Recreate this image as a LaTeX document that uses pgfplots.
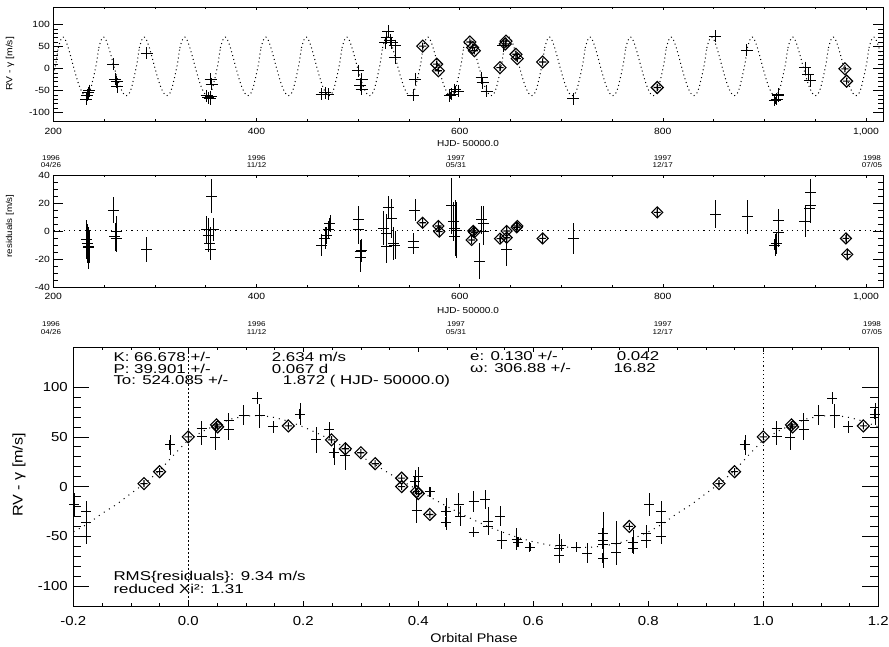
\documentclass[border=0pt]{standalone}
\usepackage{fontspec}
\setmainfont{Liberation Sans}[FakeStretch=1.15]
\newfontfamily\idlwide{Liberation Sans}[FakeStretch=1.32]
\usepackage{pgfplots}
\usepackage{pgfplotstable}
\pgfplotsset{compat=1.18}

% diamond with a plus inside
\pgfdeclareplotmark{dplus}{%
  \pgfpathmoveto{\pgfqpoint{0pt}{\pgfplotmarksize}}%
  \pgfpathlineto{\pgfqpoint{\pgfplotmarksize}{0pt}}%
  \pgfpathlineto{\pgfqpoint{0pt}{-\pgfplotmarksize}}%
  \pgfpathlineto{\pgfqpoint{-\pgfplotmarksize}{0pt}}%
  \pgfpathclose
  \pgfpathmoveto{\pgfqpoint{0pt}{0.6\pgfplotmarksize}}%
  \pgfpathlineto{\pgfqpoint{0pt}{-0.6\pgfplotmarksize}}%
  \pgfpathmoveto{\pgfqpoint{0.6\pgfplotmarksize}{0pt}}%
  \pgfpathlineto{\pgfqpoint{-0.6\pgfplotmarksize}{0pt}}%
  \pgfusepathqstroke}

% orbit model, one period (phase, RV)
\pgfplotstableread{
ph rv
0.000 47
0.025 55.5
0.050 62.5
0.075 68
0.100 71
0.125 71.5
0.150 69.5
0.175 65.5
0.200 60
0.225 53.5
0.250 46.5
0.275 38.5
0.300 30.5
0.325 22
0.350 13
0.375 4.5
0.400 -3.5
0.425 -12
0.450 -20
0.475 -27.5
0.500 -34.5
0.525 -41
0.550 -46.5
0.575 -51.5
0.600 -55.5
0.625 -58.5
0.650 -60.5
0.675 -61.5
0.700 -61
0.725 -59.5
0.750 -56.5
0.775 -52
0.800 -45.5
0.825 -37.5
0.850 -27
0.875 -18
0.900 -7
0.925 3.5
0.950 16
0.975 32
1.000 47
}\model

% phased RV, crosses
\pgfplotstableread{
ph rv err
0.023 58 8
0.023 50 8
0.047 49 12
0.070 57 10
0.070 66 8
0.096 72 10
0.120 89 6
0.124 71 12
0.148 60 6
0.194 73 11
0.222 47 13
0.245 57 8
0.253 34 12
0.273 31 14
0.394 5 12
0.400 10 10
0.397 -24 13
0.420 -5 5
0.448 -25 14
0.448 -36 8
0.470 -18 12
0.473 -30 10
0.496 -15 11
0.496 -46 5
0.516 -13 10
0.522 -35 14
0.522 -40 8
0.542 -30 10
0.545 -54 9
0.571 -53 11
0.573 -56 5
0.594 -61 4
0.645 -62 14
0.645 -69 8
0.649 -59 6
0.675 -61 5
0.694 -67 10
0.721 -54 28
0.721 -58 10
0.721 -72 10
0.721 -47 8
0.744 -57 22
0.744 -66 10
0.773 -56 12
0.773 -62 6
0.796 -47 8
0.796 -54 8
0.802 -18 12
0.822 -36 22
0.822 -25 10
0.822 -50 6
0.968 42 10
}\phcross

% phased RV, diamonds
\pgfplotstableread{
ph rv
0.000 50
0.049 62
0.051 60
0.174 61
0.249 47
0.273 38
0.300 34
0.325 23
0.371 8.5
0.371 0
0.397 -5
0.400 -7
0.420 -28
0.767 -40
0.923 3
0.950 15
}\phdiam

% RV vs time, crosses
\pgfplotstableread{
t rv err
232.2 -70 12
234.4 -54.5 10
235.4 -50 10
233.5 -60 10
259.1 10 10
260.7 -24 10
262.4 -30 10
263.0 -41 10
291.9 35 10
351.0 -62 8
352.6 -66 8
354.9 -64 8
354.2 -68 8
354.9 -24 12
355.9 -35 10
464.2 -58 8
467.4 -55 8
470.7 -58 8
500.2 -5 10
503.5 -24 12
501.9 -38 10
503.5 -47 10
526.5 59 10
528.1 70 10
529.7 85 10
531.4 65 10
533.1 59 10
536.3 52 10
536.3 25 10
554.3 -61 10
556.0 -24 10
590.4 -62 8
595.3 -48 8
598.6 -52 8
592.1 -58 8
621.6 -20.5 10
622.6 -32 10
626.6 -52 8
642.9 52 8
711.8 -68 8
851.3 74 8
882.5 42 8
910.3 -72 8
912.0 -70 8
913.6 -58 8
913.6 -62 8
939.9 2 8
943.1 -13 8
944.8 -28 8
}\tcross

% RV vs time, diamonds
\pgfplotstableread{
t rv err
563.6 51 3
577.4 10 3
579.0 -5 3
610.1 60.5 3
612.8 48 3
614.4 40.5 3
639.7 2.3 3
645.6 62.3 3
644.9 56 3
655.4 32.5 3
656.7 22.7 3
681.7 15 3
794.5 -43 3
979.2 -0.5 3
980.9 -28.5 3
}\tdiam

% residuals, crosses
\pgfplotstableread{
t res err
232.9 -6 14
234.4 -12 15
233.6 -9 14
234.9 -11 12
259.1 15 9
260.7 -4 10
262.4 0 11
261.8 -5 10
291.9 -13 9
351.0 1 10
352.6 -3 12
354.2 -9 12
354.9 -13 8
355.9 25 12
357.5 1 8
464.2 -10 8
467.4 -5 8
469.1 -3 6
472.3 5.5 6
470.7 1 6
500.2 8 10
500.2 1 10
501.9 -14.5 8
501.9 -19 10
503.5 -14 8
524.8 2 12
528.1 -2 14
529.7 17 8
528.1 -11 12
533.1 9 14
534.6 -9 12
536.3 -10 10
554.3 -7.6 6
554.3 -11.4 5
556.0 15 8
592.1 18 20
593.7 6.7 14
595.4 2 20
597.0 0.7 20
595.4 -4 12
619.3 -21.4 13
621.6 7.9 10
623.2 5.5 12
623.2 0 10
646.3 -13.1 12
711.8 -5.3 11
852.0 12.1 10
883.1 10.2 12
910.3 -10 8
912.0 -8.6 8
913.6 -1.2 10
913.6 7.4 8
939.9 6.7 11
944.8 16 10
945.5 18.6 12
945.5 27.4 10
}\rcross

% residuals, diamonds
\pgfplotstableread{
t res err
563.6 5.9 4
579.0 3.6 4
579.9 -0.5 4
611.8 -6.4 3
613.4 0 4
614.4 -1 3
639.7 -5.5 3
646.3 0 4
646.3 -4.8 4
656.1 2.6 3
656.8 3.6 3
681.7 -5.3 3
794.5 13.3 4
980.2 -5.3 4
981.5 -16.7 4
}\rdiam

\pgfplotsset{
  idl/.style={
    scale only axis, axis line style={line width=0.8pt},
    tick align=inside, tick style={black, line width=0.6pt},
    /pgf/number format/assume math mode=true,
  },
  ebars/.style={error bars/y dir=both, error bars/y explicit,
    error bars/error mark=none,
    error bars/error bar style={line width=0.5pt}},
  crosses/.style={only marks, mark=+, mark options={line width=0.9pt}, ebars},
  diams/.style={only marks, mark=dplus, mark options={line width=1.1pt}, ebars},
  model/.style={no marks, black, line width=1pt, dash pattern=on 1pt off 3pt},
}

\begin{document}
\begin{tikzpicture}
\useasboundingbox (0pt,0pt) rectangle (889pt,647pt);

% ---------- top: RV vs time ----------
\begin{axis}[idl,
  at={(53.3pt,640pt)}, anchor=north west,
  width=830pt, height=114.4pt,
  xmin=200, xmax=1017, ymin=-120, ymax=140,
  xtick={200,400,600,800,1000}, ytick={-100,-50,0,50,100},
  minor x tick num=3, minor y tick num=4,
  x tick style={/pgfplots/major tick length=3pt,/pgfplots/minor tick length=2pt},
  y tick style={/pgfplots/major tick length=10pt,/pgfplots/minor tick length=5pt},
  ticklabel style={font=\fontsize{9}{10}\selectfont},
  xticklabel style={yshift=-3pt},
]
\pgfplotsinvokeforeach{-9,...,12}{
  \addplot[model] table[x expr=524.085+39.901*(\thisrow{ph}+(#1)), y=rv] {\model};
}
\addplot[crosses, mark size=6pt] table[x=t, y=rv, y error=err] {\tcross};
\addplot[diams, mark size=6pt] table[x=t, y=rv, y error=err] {\tdiam};
\end{axis}

% ---------- middle: residuals ----------
\begin{axis}[idl,
  at={(53.3pt,472pt)}, anchor=north west,
  width=830pt, height=112pt,
  xmin=200, xmax=1017, ymin=-40, ymax=40,
  xtick={200,400,600,800,1000}, ytick={-40,-20,0,20,40},
  minor x tick num=3, minor y tick num=3,
  x tick style={/pgfplots/major tick length=3pt,/pgfplots/minor tick length=2pt},
  y tick style={/pgfplots/major tick length=10pt,/pgfplots/minor tick length=5pt},
  ticklabel style={font=\fontsize{9}{10}\selectfont},
  xticklabel style={yshift=-3pt},
]
\addplot[black, line width=1pt, dash pattern=on 1.2pt off 4pt] coordinates {(200,0) (1017,0)};
\addplot[crosses, mark size=5.5pt] table[x=t, y=res, y error=err] {\rcross};
\addplot[diams, mark size=5.5pt] table[x=t, y=res, y error=err] {\rdiam};
\end{axis}

% ---------- bottom: phased RV ----------
\begin{axis}[idl,
  at={(73.3pt,299.7pt)}, anchor=north west,
  width=805pt, height=258.7pt,
  xmin=-0.2, xmax=1.2, ymin=-120, ymax=140,
  xtick={-0.2,0,0.2,0.4,0.6,0.8,1.0,1.2}, ytick={-100,-50,0,50,100},
  minor x tick num=3, minor y tick num=4,
  x tick style={/pgfplots/major tick length=5pt,/pgfplots/minor tick length=3pt},
  y tick style={/pgfplots/major tick length=16pt,/pgfplots/minor tick length=8pt},
  ticklabel style={font=\fontsize{13}{14}\selectfont},
  xticklabel style={yshift=-7pt, /pgf/number format/.cd, fixed, fixed zerofill, precision=1},
  yticklabel style={xshift=-2pt},
]
\addplot[black, line width=0.5pt, dash pattern=on 2pt off 2pt] coordinates {(0,-120) (0,140)};
\addplot[black, line width=1pt, dash pattern=on 1.2pt off 3pt] coordinates {(1,-120) (1,140)};
\pgfplotsinvokeforeach{-1,0,1}{
  \addplot[model, dash pattern=on 1pt off 5pt] table[x expr=\thisrow{ph}+(#1), y=rv] {\model};
  \addplot[crosses, mark size=5pt] table[x expr=\thisrow{ph}+(#1), y=rv, y error=err] {\phcross};
  \addplot[only marks, mark=dplus, mark options={line width=1.1pt}, mark size=6pt] table[x expr=\thisrow{ph}+(#1), y=rv] {\phdiam};
}
\end{axis}

% ---------- labels ----------
\node[rotate=90, font=\fontsize{9}{10}\selectfont] at (10pt,583pt) {RV - γ [m/s]};
\node[rotate=90, font=\fontsize{8.5}{10}\selectfont] at (10pt,421pt) {residuals [m/s]};
\node[rotate=90, font=\fontsize{14}{16}\selectfont] at (19pt,172pt) {RV - γ [m/s]};
\node[font=\fontsize{12.5}{14}\selectfont] at (474pt,9pt) {Orbital Phase};
\node[font=\fontsize{8.7}{10}\selectfont] at (468pt,503pt) {HJD- 50000.0};
\node[font=\fontsize{8.7}{10}\selectfont] at (468pt,336pt) {HJD- 50000.0};

\foreach \yy in {485.5,319} {
  \node[align=center, font=\fontsize{7}{7.5}\selectfont] at (51pt,\yy pt) {1996\\04/26};
  \node[align=center, font=\fontsize{7}{7.5}\selectfont] at (256.7pt,\yy pt) {1996\\11/12};
  \node[align=center, font=\fontsize{7}{7.5}\selectfont] at (456pt,\yy pt) {1997\\05/31};
  \node[align=center, font=\fontsize{7}{7.5}\selectfont] at (662.7pt,\yy pt) {1997\\12/17};
  \node[align=center, font=\fontsize{7}{7.5}\selectfont] at (872pt,\yy pt) {1998\\07/05};
}

\begin{scope}[every node/.style={anchor=base west, inner sep=0pt, font=\idlwide\fontsize{12.8}{13}\selectfont}]
\node at (113.3pt,285pt) {K: 66.678 +/-};
\node at (271.7pt,285pt) {2.634 m/s};
\node at (113.3pt,273.5pt) {P: 39.901 +/-};
\node at (271.7pt,273.5pt) {0.067 d};
\node at (113.3pt,262pt) {To: 524.085 +/-};
\node at (282.7pt,262pt) {1.872 ( HJD- 50000.0)};
\node at (470pt,286pt) {e: 0.130 +/-};
\node at (616.7pt,286pt) {0.042};
\node at (470pt,274.5pt) {ω: 306.88 +/-};
\node at (613.3pt,274.5pt) {16.82};
\node at (113.3pt,66.7pt) {RMS\{residuals\}: 9.34 m/s};
\node at (113.3pt,53.4pt) {reduced Xi²: 1.31};
\end{scope}
\end{tikzpicture}
\end{document}
